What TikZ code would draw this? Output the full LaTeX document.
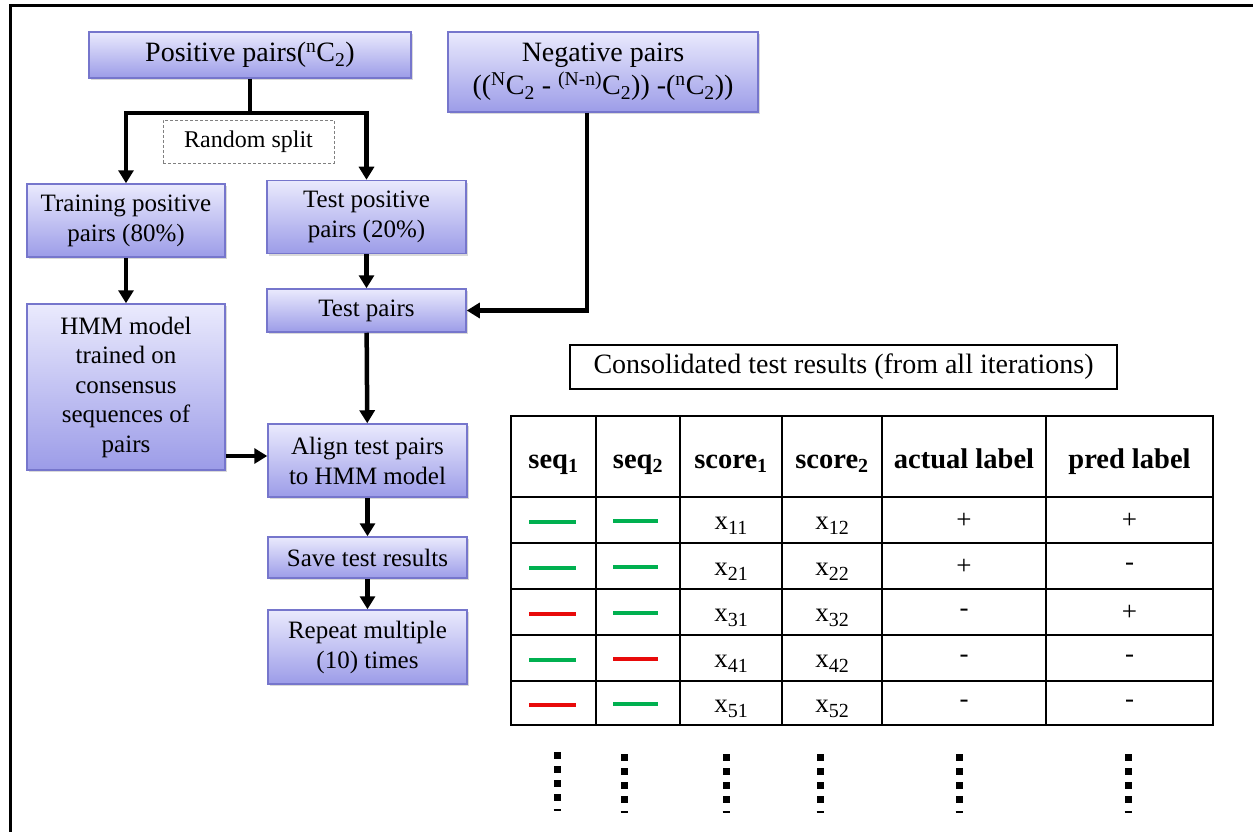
\documentclass[tikz,border=0pt]{standalone}
\usepackage{fontspec}
\setmainfont{Liberation Serif}
\usetikzlibrary{arrows.meta,shadows}
\definecolor{boxtop}{RGB}{234,234,253}
\definecolor{boxbot}{RGB}{156,156,232}
\definecolor{boxline}{RGB}{118,118,204}
\definecolor{seqgreen}{RGB}{0,176,80}
\definecolor{seqred}{RGB}{232,10,10}
\newcommand{\cellsub}[1]{\raisebox{-0.45ex}{\fontsize{20}{22}\selectfont #1}}
\begin{document}
\begin{tikzpicture}[x=1pt,y=-1pt,
  box/.style={draw=boxline, line width=1.5pt, top color=boxtop, bottom color=boxbot,
    align=center, inner sep=0pt, font=\fontsize{25}{30}\selectfont,
    drop shadow={opacity=0.3,shadow xshift=2pt,shadow yshift=-2pt}},
  arr/.style={line width=4.5pt, -{Triangle[width=15pt,length=13pt]}},
  conn/.style={line width=4.5pt},
  hdr/.style={font=\fontsize{28.5}{30}\selectfont\bfseries, anchor=base},
  cell/.style={font=\fontsize{27}{30}\selectfont},
  seqline/.style={line width=4.5pt},
  dotcol/.style={line width=7pt, dash pattern=on 7pt off 7pt},
  dotend/.style={line width=2pt}
]
\useasboundingbox (0,0) rectangle (1253,832);
% outer frame (only top and left edges visible)
\draw[line width=3pt] (10,832) -- (10,6) -- (1253,6);

% flowchart boxes
\node[box, minimum width=322pt, minimum height=46pt, font=\fontsize{28}{32}\selectfont] (pos) at (250,55)
  {Positive pairs(\textsuperscript{n}C\textsubscript{2})};
\node[box, minimum width=310pt, minimum height=80pt, font=\fontsize{28}{33}\selectfont] (neg) at (603,72)
  {Negative pairs\\((\textsuperscript{N}C\textsubscript{2} - \textsuperscript{(N-n)}C\textsubscript{2})) -(\textsuperscript{n}C\textsubscript{2}))};
\node[draw=gray, densely dashed, line width=0.8pt, minimum width=171pt, minimum height=43pt,
  inner sep=0pt, font=\fontsize{24}{28}\selectfont] (rand) at (248.5,141.5) {Random split};
\node[box, minimum width=198pt, minimum height=73pt] (train) at (126,220.5) {Training positive\\pairs (80\%)};
\node[box, minimum width=199pt, minimum height=73pt] (testpos) at (366.5,217) {Test positive\\pairs (20\%)};
\node[box, minimum width=199pt, minimum height=43pt] (testpairs) at (366.5,310.5) {Test pairs};
\node[box, minimum width=198pt, minimum height=166pt, font=\fontsize{25}{29.5}\selectfont] (hmm) at (126,387)
  {HMM model\\trained on\\consensus\\sequences of\\pairs};
\node[box, minimum width=199pt, minimum height=73pt] (align) at (367.5,460.5) {Align test pairs\\to HMM model};
\node[box, minimum width=199pt, minimum height=41pt] (save) at (367.5,557.5) {Save test results};
\node[box, minimum width=199pt, minimum height=74pt] (repeat) at (367.5,647) {Repeat multiple\\(10) times};

% connectors
\coordinate (bar) at (250,113);
\coordinate (negx) at (587,0);
\coordinate (hy) at (0,456);
\draw[conn] (pos.south) -- (bar);
\draw[arr] (bar) -| (train.north);
\draw[arr] (bar) -| (testpos.north);
\draw[arr] (train) -- (hmm);
\draw[arr] (testpos) -- (testpairs);
\draw[arr] (neg.south -| negx) |- (testpairs.east);
\draw[arr] (testpairs) -- (align);
\draw[arr] (hmm.east |- hy) -- (align.west |- hy);
\draw[arr] (align) -- (save);
\draw[arr] (save) -- (repeat);

% consolidated results
\node[draw, line width=2.6pt, minimum width=547pt, minimum height=44pt, inner sep=0pt,
  font=\fontsize{28}{32}\selectfont] (cons) at (843.5,367) {Consolidated test results (from all iterations)};

% table grid
\draw[line width=2.6pt] (511,416) rectangle (1213,725);
\foreach \cx in {596,680,782,882,1046} \draw[line width=2.4pt] (\cx,416) -- (\cx,725);
\foreach \ry in {497,543,589,635,681} \draw[line width=2.4pt] (511,\ry) -- (1213,\ry);

% header
\node[hdr] (h1) at (553.5,468) {seq\textsubscript{1}};
\node[hdr] (h2) at (638,468) {seq\textsubscript{2}};
\node[hdr] (h3) at (731,468) {score\textsubscript{1}};
\node[hdr] (h4) at (832,468) {score\textsubscript{2}};
\node[hdr] (h5) at (964,468) {actual label};
\node[hdr] (h6) at (1129.5,468) {pred label};

% rows
\foreach \i/\ya/\cA/\cB/\act/\pred in {1/520/seqgreen/seqgreen/+/+, 2/566/seqgreen/seqgreen/+/-,
    3/612/seqred/seqgreen/-/+, 4/658/seqgreen/seqred/-/-, 5/703/seqred/seqgreen/-/-}{
  \draw[seqline, draw=\cA] (529,\ya+2) -- (576,\ya+2);
  \draw[seqline, draw=\cB] (613,\ya+1) -- (658,\ya+1);
  \node[cell, anchor=base] (sa\i) at (731,\ya+9) {x\cellsub{\i1}};
  \node[cell, anchor=base] (sb\i) at (832,\ya+9) {x\cellsub{\i2}};
  \node[cell] (ac\i) at (964,\ya+1) {\act};
  \node[cell] (pr\i) at (1129.5,\ya+1) {\pred};
}

% continuation dots
\foreach \dx/\dy in {557/752, 624/754, 726/754, 820/754, 959/754, 1128/754}{
  \draw[dotcol] (\dx,\dy) -- (\dx,\dy+49);
  \draw[dotend] (\dx-3.5,\dy+58) -- (\dx+3.5,\dy+58);
}
\end{tikzpicture}
\end{document}
